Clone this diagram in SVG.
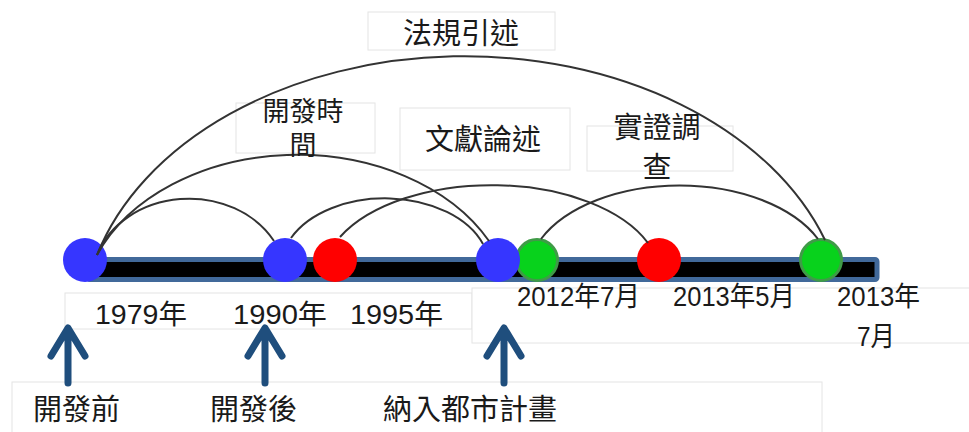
<svg xmlns="http://www.w3.org/2000/svg" width="969" height="432" viewBox="0 0 969 432">
  <style>
    .box { fill: #ffffff; stroke: #e4e4e4; stroke-width: 1; }
    .cjk { font-family: "Liberation Sans", "Noto Sans CJK TC", sans-serif; fill: #1a1a1a; }
    .arc { fill: none; stroke: #333333; stroke-width: 2; }
    .blue { fill: #3636ff; }
    .red { fill: #ff0000; }
    .green { fill: #08d21c; stroke: #3f9b47; stroke-width: 3; }
    .arrow { fill: none; stroke: #1f4e7d; stroke-width: 7; stroke-linecap: round; stroke-linejoin: round; }
  </style>
  <rect width="969" height="432" fill="#ffffff"/>

  <!-- label boxes -->
  <g id="boxes">
    <rect class="box" x="368" y="12" width="187" height="38"/>
    <rect class="box" x="236" y="103" width="139" height="50"/>
    <rect class="box" x="400" y="108" width="170" height="62"/>
    <rect class="box" x="587" y="126" width="146" height="45"/>
    <rect class="box" x="65" y="293" width="407" height="36"/>
    <rect class="box" x="472" y="288" width="500" height="55"/>
    <rect class="box" x="12" y="382" width="810" height="60"/>
  </g>

  <!-- timeline bar -->
  <g id="timeline">
    <rect x="88" y="259.5" width="789" height="20" rx="2" fill="#000000" stroke="#41699a" stroke-width="5"/>
  </g>

  <!-- timeline nodes -->
  <g id="n1979"><circle class="blue" cx="85" cy="260" r="22"/></g>
  <g id="n1990"><circle class="blue" cx="285" cy="260" r="22"/></g>
  <g id="n1995"><circle class="red" cx="335" cy="260" r="22"/></g>
  <g id="n2012g"><circle class="green" cx="537" cy="260" r="20.5"/></g>
  <g id="n2012b"><circle class="blue" cx="498" cy="260" r="22"/></g>
  <g id="n2013may"><circle class="red" cx="659" cy="260" r="22"/></g>
  <g id="n2013jul"><circle class="green" cx="821" cy="260" r="20.5"/></g>

  <!-- connectors -->
  <g id="connectors">
    <path class="arc" d="M97,255 A382,274 0 0 1 825,240"/>
    <path class="arc" d="M97,255 A97,82 0 0 1 274,241"/>
    <path class="arc" d="M97,255 A216,160 0 0 1 489,241"/>
    <path class="arc" d="M291,238 A104,69 0 0 1 483,244"/>
    <path class="arc" d="M340,237 A169,93 0 0 1 648,243"/>
    <path class="arc" d="M541,239 A152,91 0 0 1 818,239"/>
    <path class="arrow" d="M68,383 L68,330 M51,356 L68,328 L85,356"/>
    <path class="arrow" d="M265,383 L265,330 M248,356 L265,328 L282,356"/>
    <path class="arrow" d="M504,383 L504,330 M487,356 L504,328 L521,356"/>
  </g>

  <!-- texts -->
  <g id="label-law"><text class="cjk" x="461" y="44" font-size="29" text-anchor="middle">法規引述</text></g>
  <g id="label-devtime">
    <text class="cjk" x="303" y="121" font-size="27" text-anchor="middle">開發時</text>
    <text class="cjk" x="303" y="155" font-size="27" text-anchor="middle">間</text>
  </g>
  <g id="label-lit"><text class="cjk" x="483" y="150" font-size="29" text-anchor="middle">文獻論述</text></g>
  <g id="label-survey">
    <text class="cjk" x="657" y="138" font-size="29" text-anchor="middle">實證調</text>
    <text class="cjk" x="657" y="178" font-size="29" text-anchor="middle">查</text>
  </g>

  <g id="years">
    <text class="cjk" x="95" y="324" font-size="27" textLength="92" lengthAdjust="spacingAndGlyphs">1979年</text>
    <text class="cjk" x="233" y="324" font-size="27" textLength="94" lengthAdjust="spacingAndGlyphs">1990年</text>
    <text class="cjk" x="350" y="324" font-size="27" textLength="93" lengthAdjust="spacingAndGlyphs">1995年</text>
    <text class="cjk" x="517" y="306" font-size="27" textLength="123" lengthAdjust="spacingAndGlyphs">2012年7月</text>
    <text class="cjk" x="673" y="306" font-size="27" textLength="122" lengthAdjust="spacingAndGlyphs">2013年5月</text>
    <text class="cjk" x="837" y="306" font-size="27" textLength="83" lengthAdjust="spacingAndGlyphs">2013年</text>
    <text class="cjk" x="857" y="346" font-size="27" textLength="38" lengthAdjust="spacingAndGlyphs">7月</text>
  </g>

  <g id="label-before"><text class="cjk" x="33" y="420" font-size="29">開發前</text></g>
  <g id="label-after"><text class="cjk" x="210" y="420" font-size="29">開發後</text></g>
  <g id="label-plan"><text class="cjk" x="383" y="420" font-size="29">納入都市計畫</text></g>
</svg>
